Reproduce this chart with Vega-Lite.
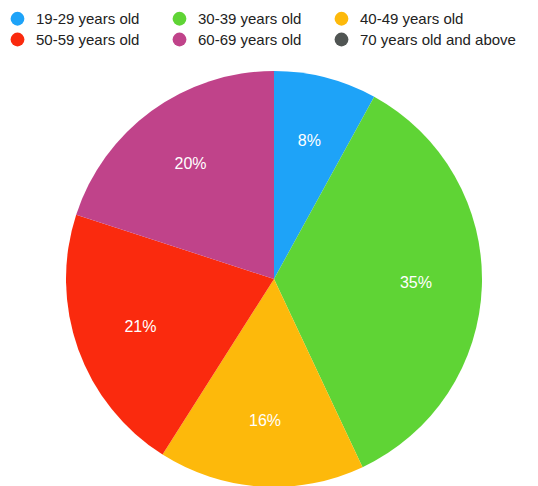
{
  "$schema": "https://vega.github.io/schema/vega-lite/v6.json",
  "width": 524,
  "height": 414,
  "autosize": {"type": "none"},
  "padding": {"left": 12, "top": 72, "right": 2, "bottom": 0},
  "background": "white",
  "data": {
    "values": [
      {"group": "19-29 years old", "share": 8, "label": "8%", "order": 1},
      {"group": "30-39 years old", "share": 35, "label": "35%", "order": 2},
      {"group": "40-49 years old", "share": 16, "label": "16%", "order": 3},
      {"group": "50-59 years old", "share": 21, "label": "21%", "order": 4},
      {"group": "60-69 years old", "share": 20, "label": "20%", "order": 5},
      {"group": "70 years old and above", "share": 0, "label": "", "order": 6}
    ]
  },
  "encoding": {
    "theta": {"field": "share", "type": "quantitative", "stack": true},
    "order": {"field": "order", "type": "quantitative"}
  },
  "layer": [
    {
      "mark": {"type": "arc", "outerRadius": 208},
      "encoding": {
        "color": {
          "field": "group",
          "type": "nominal",
          "sort": ["19-29 years old", "30-39 years old", "40-49 years old", "50-59 years old", "60-69 years old", "70 years old and above"],
          "scale": {
            "domain": ["19-29 years old", "30-39 years old", "40-49 years old", "50-59 years old", "60-69 years old", "70 years old and above"],
            "range": ["#1ea3f8", "#5fd435", "#fdb90b", "#fa2a0e", "#c0438a", "#505553"]
          },
          "legend": {
            "title": null,
            "orient": "none",
            "legendX": -2,
            "legendY": -61,
            "direction": "horizontal",
            "columns": 3,
            "columnPadding": 32,
            "rowPadding": 5,
            "symbolType": "circle",
            "symbolSize": 190,
            "symbolStrokeWidth": 0,
            "labelFont": "Liberation Sans",
            "labelFontSize": 15,
            "labelColor": "#222222",
            "labelOffset": 11,
            "labelLimit": 300
          }
        }
      }
    },
    {
      "transform": [{"filter": "datum.share > 0"}],
      "mark": {"type": "text", "radius": 142, "color": "white", "font": "Liberation Sans", "fontSize": 16},
      "encoding": {
        "text": {"field": "label", "type": "nominal"}
      }
    }
  ]
}
